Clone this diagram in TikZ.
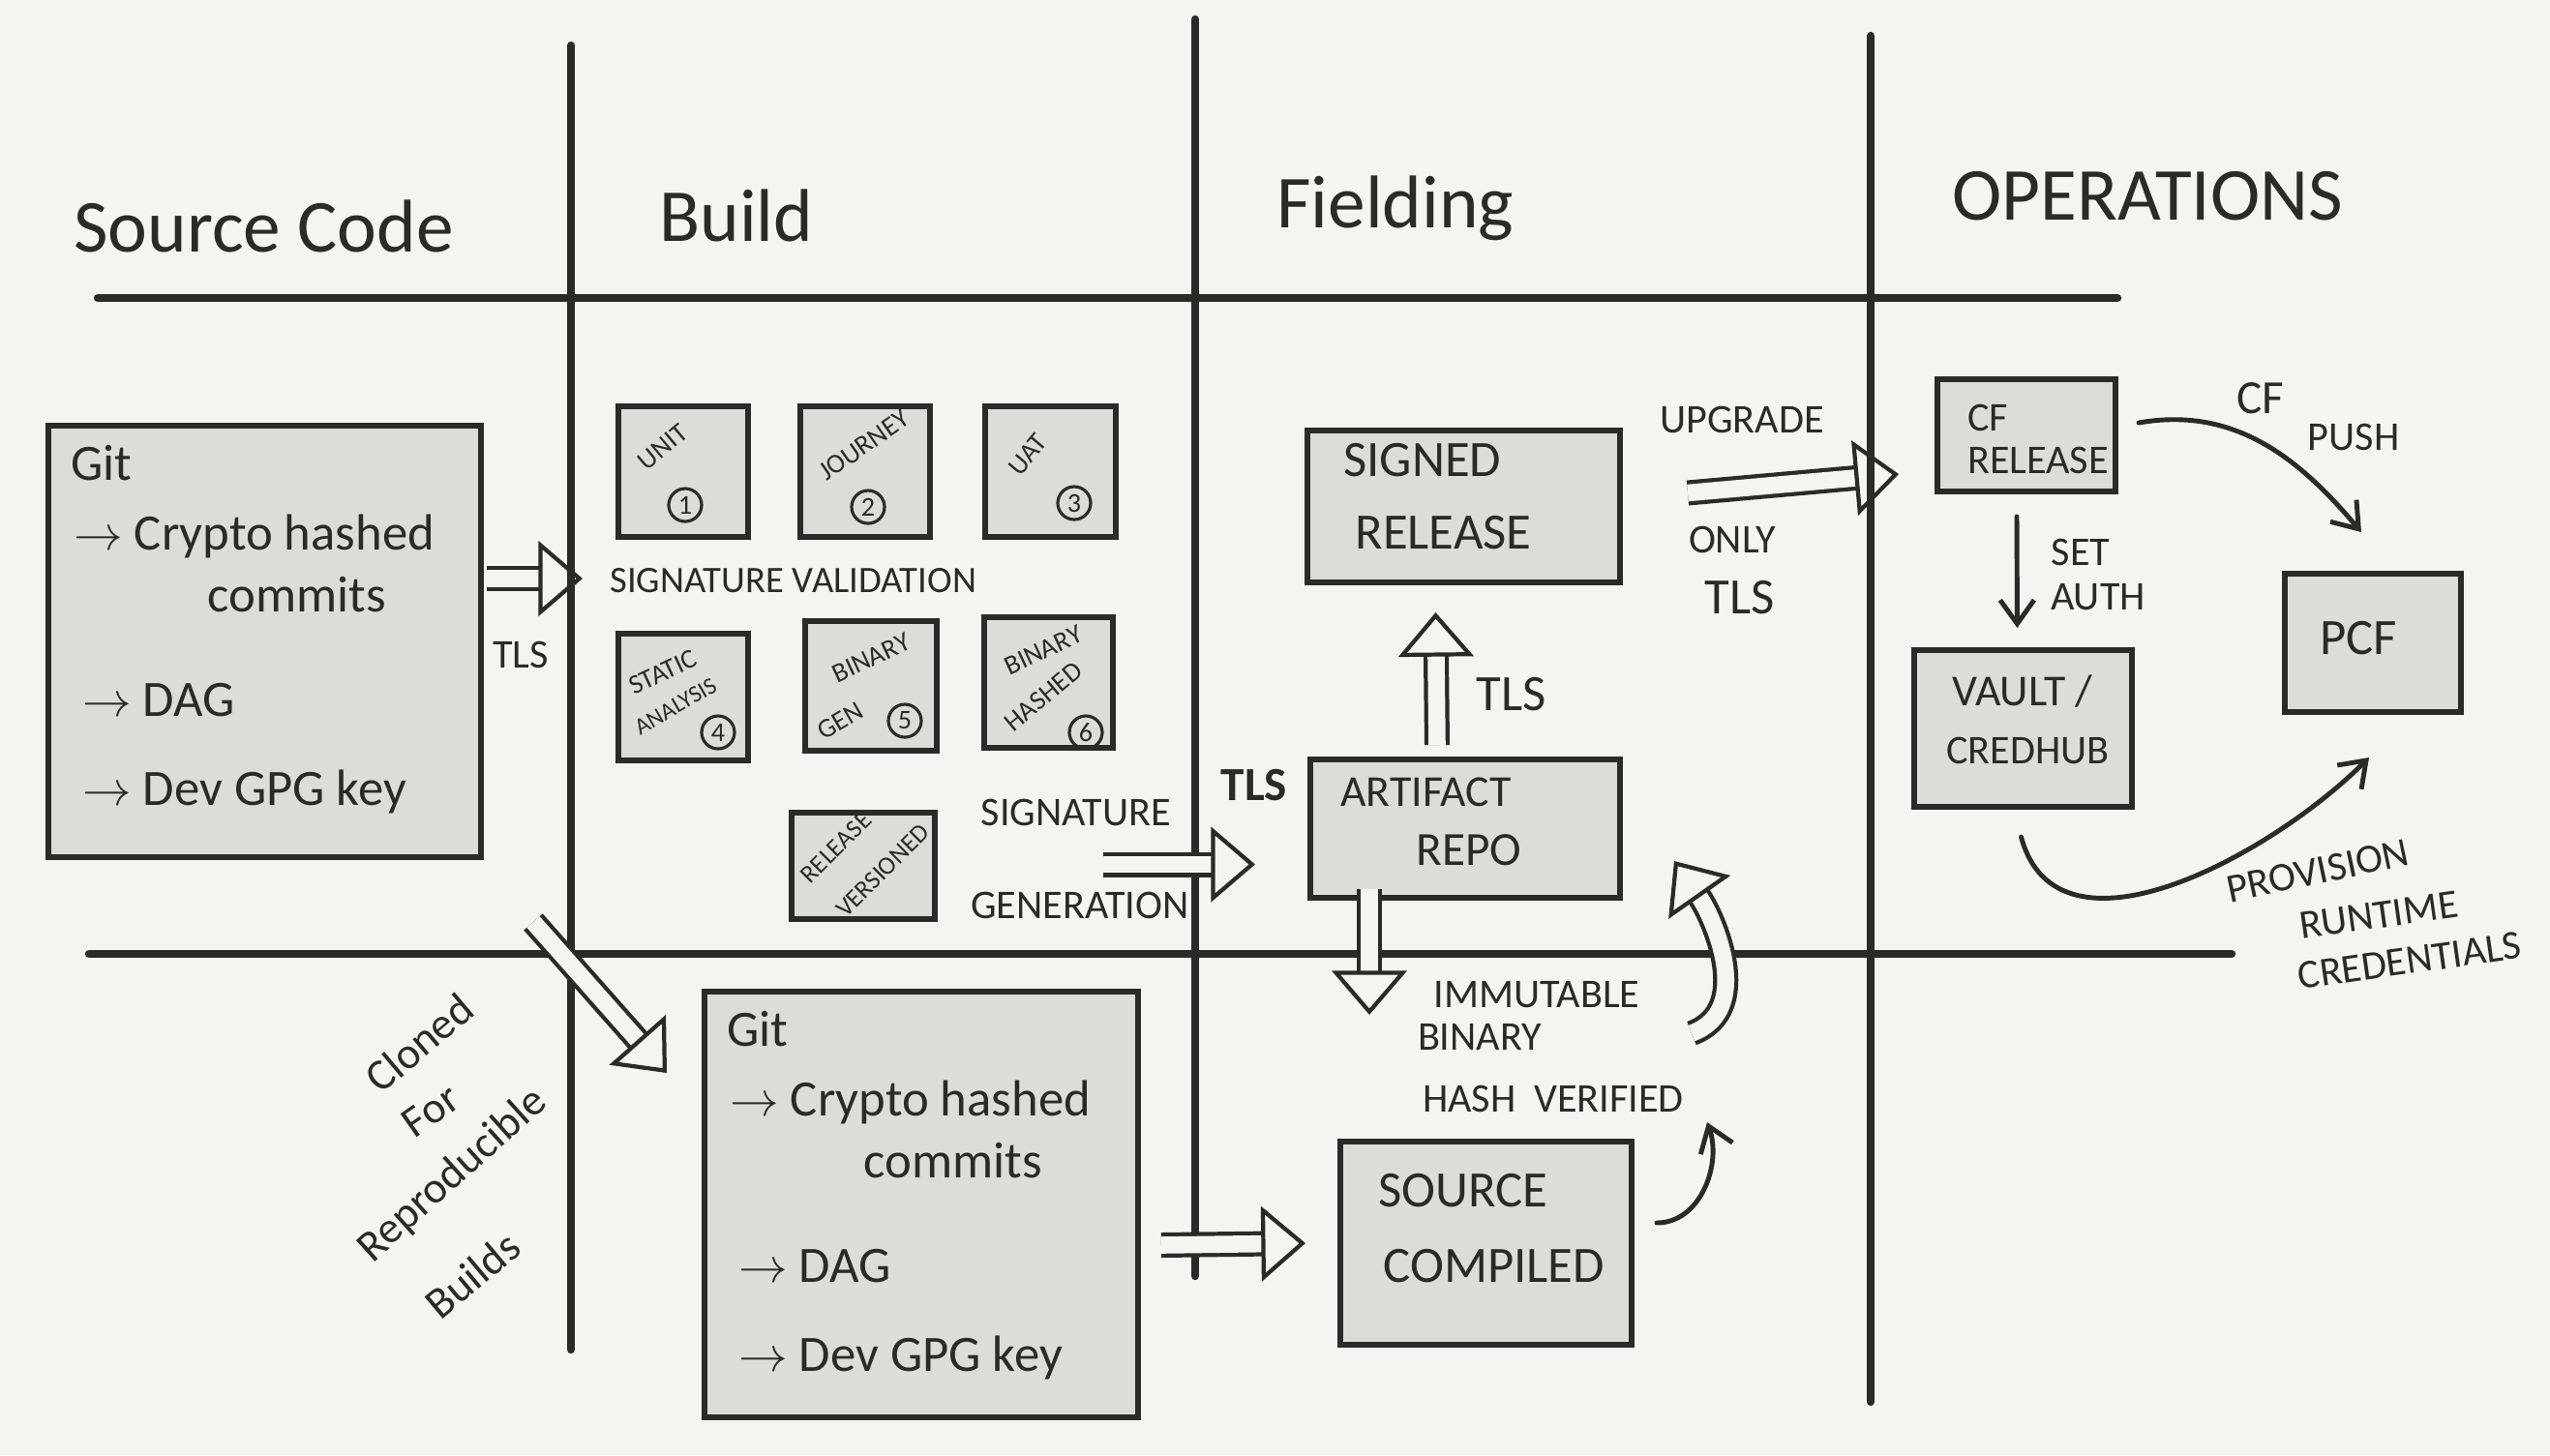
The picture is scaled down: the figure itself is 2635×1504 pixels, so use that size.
\documentclass[tikz,border=0pt]{standalone}
\usepackage{fontspec}
\setmainfont{Carlito}
\usetikzlibrary{arrows.meta}

\definecolor{paper}{HTML}{F5F4F0}
\definecolor{ink}{HTML}{2B2A27}
\definecolor{boxgray}{HTML}{DDDCD8}

\tikzset{
  grid/.style={draw=ink, line width=2.4pt, line cap=round},
  box/.style={draw=ink, fill=boxgray, line width=1.7pt, inner sep=0pt},
  head/.style={text=ink, anchor=base west, font=\fontsize{22}{24}\selectfont},
  txt/.style={text=ink, anchor=base west, font=\fontsize{15}{17}\selectfont},
  lbl/.style={text=ink, font=\fontsize{12}{14}\selectfont},
  small/.style={text=ink, font=\fontsize{8}{9}\selectfont, inner sep=0pt},
  num/.style={circle, draw=ink, line width=0.9pt, inner sep=0pt, minimum size=3.4mm, text=ink, font=\fontsize{8}{8}\selectfont},
  dbl/.style={draw=ink, double=paper, double distance=5pt, line width=1.2pt,
    -{Triangle[open, length=13pt, width=22pt]}},
  link/.style={draw=ink, line width=1.4pt, line cap=round, -{Straight Barb[length=7pt, width=10pt]}}
}

\begin{document}
\begin{tikzpicture}[x=0.1mm, y=-0.1mm]
\fill[paper] (0,0) rectangle (2635,1504);
\useasboundingbox (0,0) rectangle (2635,1504);

\draw[grid] (101,308) -- (2188,308);
\draw[grid] (92,986) -- (2306,986);
\draw[grid] (590,47) -- (590,1395);
\draw[grid] (1235,20) -- (1235,1319);
\draw[grid] (1933,37) -- (1933,1449);

\node[head] (hSrc) at (64,260) {Source Code};
\node[head] (hBuild) at (669,249) {Build};
\node[head] (hField) at (1307,235) {Fielding};
\node[head] (hOps) at (2005,227) {OPERATIONS};

\node[box, minimum width=44.7mm, minimum height=44.6mm] (git) at (273.5,663) {};
\node[txt] (gitA) at ([shift={(14,59)}]git.north west) {Git};
\node[txt] (gitB) at ([shift={(17,131)}]git.north west) {$\rightarrow$ Crypto hashed};
\node[txt] (gitC) at ([shift={(155,195)}]git.north west) {commits};
\node[txt] (gitD) at ([shift={(26,303)}]git.north west) {$\rightarrow$ DAG};
\node[txt] (gitE) at ([shift={(26,395)}]git.north west) {$\rightarrow$ Dev GPG key};

\node[box, minimum width=44.8mm, minimum height=44mm] (gitb) at (952,1245) {};
\node[txt] (gitbA) at ([shift={(14,59)}]gitb.north west) {Git};
\node[txt] (gitbB) at ([shift={(17,131)}]gitb.north west) {$\rightarrow$ Crypto hashed};
\node[txt] (gitbC) at ([shift={(155,195)}]gitb.north west) {commits};
\node[txt] (gitbD) at ([shift={(26,303)}]gitb.north west) {$\rightarrow$ DAG};
\node[txt] (gitbE) at ([shift={(26,395)}]gitb.north west) {$\rightarrow$ Dev GPG key};

\node[box, minimum width=13.4mm, minimum height=13.5mm] (unit) at (706,487.5) {};
\node[small, rotate=40] (unitT) at (685,462) {UNIT};
\node[num] (unitN) at (708,522) {1};
\node[box, minimum width=13.4mm, minimum height=13.5mm] (journey) at (894,487.5) {};
\node[small, rotate=35] (journeyT) at (893,460) {JOURNEY};
\node[num] (journeyN) at (897,524) {2};
\node[box, minimum width=13.5mm, minimum height=13.5mm] (uat) at (1085.5,487.5) {};
\node[small, rotate=50] (uatT) at (1062,470) {UAT};
\node[num] (uatN) at (1110,520) {3};

\node[box, minimum width=13.4mm, minimum height=13.1mm] (static) at (706,720.5) {};
\node[small, rotate=25] (staticT) at (685,695) {STATIC};
\node[small, rotate=30, font=\fontsize{7}{8}\selectfont] (staticU) at (698,730) {ANALYSIS};
\node[num] (staticN) at (742,757) {4};
\node[box, minimum width=13.6mm, minimum height=13.4mm] (bingen) at (900,709) {};
\node[small, rotate=25] (bingenT) at (900,680) {BINARY};
\node[small, rotate=30] (bingenU) at (868,745) {GEN};
\node[num] (bingenN) at (935,745) {5};
\node[box, minimum width=13.3mm, minimum height=13.5mm] (binhash) at (1083.5,705.5) {};
\node[small, rotate=25] (binhashT) at (1078,672) {BINARY};
\node[small, rotate=40] (binhashU) at (1078,720) {HASHED};
\node[num] (binhashN) at (1122,757) {6};

\node[box, minimum width=14.8mm, minimum height=11mm] (relver) at (892,895) {};
\node[small, rotate=45, font=\fontsize{7.5}{8}\selectfont] (relverT) at (864,876) {RELEASE};
\node[small, rotate=45, font=\fontsize{7.5}{8}\selectfont] (relverU) at (912,900) {VERSIONED};

\node[lbl, anchor=west, font=\fontsize{11}{13}\selectfont] (sigval) at (618,600) {SIGNATURE VALIDATION};
\node[lbl] (tlsA) at (538,677) {TLS};
\draw[dbl] ([shift={(3,-65)}]git.east) -- ([shift={(555,-65)}]git.west);

\node[lbl] (siggenA) at (1112,840) {SIGNATURE};
\node[lbl] (siggenB) at (1116,936) {GENERATION};
\node[lbl, font=\fontsize{14}{16}\selectfont\bfseries] (tlsB) at (1296,812) {TLS};

\node[box, minimum width=32.3mm, minimum height=15.7mm] (signed) at (1512.5,523.5) {};
\node[txt] (signedA) at ([shift={(28,50)}]signed.north west) {SIGNED};
\node[txt] (signedB) at ([shift={(40,125)}]signed.north west) {RELEASE};
\node[box, minimum width=32mm, minimum height=14.3mm] (artifact) at (1514,856.5) {};
\node[txt, font=\fontsize{13}{15}\selectfont] (artifactA) at ([shift={(22,51)}]artifact.north west) {ARTIFACT};
\node[txt, font=\fontsize{14}{16}\selectfont] (artifactB) at ([shift={(100,112)}]artifact.north west) {REPO};
\node[box, minimum width=30.1mm, minimum height=21mm] (compiled) at (1535.5,1285) {};
\node[txt] (compiledA) at ([shift={(30,70)}]compiled.north west) {SOURCE};
\node[txt] (compiledB) at ([shift={(35,148)}]compiled.north west) {COMPILED};

\draw[dbl] ([shift={(-211,37)}]artifact.west) -- ([shift={(-54,37)}]artifact.west);
\draw[dbl] ([shift={(-29,-12)}]artifact.north) -- ([shift={(-29,28)}]signed.south);
\node[lbl, font=\fontsize{15}{17}\selectfont] (tlsC) at (1562,718) {TLS};
\draw[dbl] ([shift={(-99,-12)}]artifact.south) -- ([shift={(-99,118)}]artifact.south);
\node[lbl] (immA) at (1588,1028) {IMMUTABLE};
\node[lbl] (immB) at (1529,1072) {BINARY};
\node[lbl] (immC) at (1605,1136) {HASH \ VERIFIED};

\draw[link] ([shift={(23,-21)}]compiled.east) to[out=0, in=-70] ([shift={(75,-125)}]compiled.east);
\draw[dbl] (1748,1068) to[out=20, in=-55] ([shift={(53,-41)}]artifact.south east);

\draw[dbl] ([shift={(21,42)}]gitb.east) -- ([shift={(-33,0)}]compiled.west);

\draw[dbl] ([shift={(51,64)}]git.south east) -- ([shift={(-36,87)}]gitb.north west);
\node[lbl, font=\fontsize{13}{15}\selectfont, rotate=40] (clA) at (433,1078) {Cloned};
\node[lbl, font=\fontsize{13}{15}\selectfont, rotate=35] (clB) at (445,1148) {For};
\node[lbl, font=\fontsize{13}{15}\selectfont, rotate=42] (clC) at (468,1215) {Reproducible};
\node[lbl, font=\fontsize{13}{15}\selectfont, rotate=40] (clD) at (488,1318) {Builds};

\node[box, minimum width=18.4mm, minimum height=11.6mm] (cfrel) at (2094,450) {};
\node[lbl] (cfrelA) at ([shift={(-40,-18)}]cfrel.center) {CF};
\node[lbl] (cfrelB) at ([shift={(12,26)}]cfrel.center) {RELEASE};
\node[box, minimum width=22.5mm, minimum height=16.2mm] (vault) at (2090.5,753) {};
\node[txt, font=\fontsize{13}{15}\selectfont] (vaultA) at ([shift={(30,60)}]vault.north west) {VAULT /};
\node[txt, font=\fontsize{12}{14}\selectfont] (vaultB) at ([shift={(24,120)}]vault.north west) {CREDHUB};
\node[box, minimum width=18.2mm, minimum height=14.3mm] (pcf) at (2452,664.5) {};
\node[txt, anchor=center] (pcfA) at ([shift={(-15,-5)}]pcf.center) {PCF};

\draw[dbl] ([shift={(67,-14)}]signed.east) -- ([shift={(-37,40)}]cfrel.west);
\node[lbl] (upg) at (1800,434) {UPGRADE};
\node[lbl] (onlyA) at (1790,558) {ONLY};
\node[lbl, font=\fontsize{15}{17}\selectfont] (onlyB) at (1798,618) {TLS};

\draw[link] ([shift={(-10,23)}]cfrel.south) -- ([shift={(-6,-20)}]vault.north);
\node[lbl] (authA) at (2150,571) {SET};
\node[lbl] (authB) at (2168,617) {AUTH};

\draw[link] ([shift={(21,-13)}]cfrel.east) to[out=10, in=130] ([shift={(-12,-40)}]pcf.north);
\node[lbl, font=\fontsize{14}{16}\selectfont] (pushA) at (2336,412) {CF};
\node[lbl] (pushB) at (2432,452) {PUSH};

\draw[link] ([shift={(-2,28)}]vault.south) to[out=-75, in=-135] ([shift={(-4,44)}]pcf.south);
\node[lbl, rotate=12] (provA) at (2395,900) {PROVISION};
\node[lbl, rotate=8] (provB) at (2458,946) {RUNTIME};
\node[lbl, rotate=8] (provC) at (2490,993) {CREDENTIALS};
\end{tikzpicture}
\end{document}
